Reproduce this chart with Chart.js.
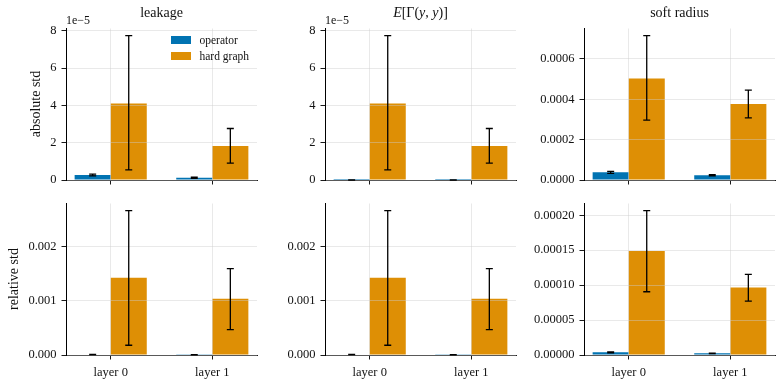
<!DOCTYPE html>
<html>
<head>
<meta charset="utf-8">
<script src="https://cdn.jsdelivr.net/npm/chart.js@4"></script>
<style>
  body { margin: 0; width: 782px; height: 384px; background: #fff; position: relative; overflow: hidden;
         font-family: "Liberation Serif", "DejaVu Serif", serif; color: #111; }
  canvas { position: absolute; }
  .txt { position: absolute; white-space: nowrap; line-height: 1; }
  .title { font-size: 14px; transform: translateX(-50%); }
  .ylab { font-size: 14px; transform: translate(-50%, -50%) rotate(-90deg); }
  .offset { font-size: 12px; }
  .legend { position: absolute; font-size: 11.5px; }
  .legend div { display: flex; align-items: center; height: 16px; }
  .legend span.sw { display: inline-block; width: 20px; height: 7.5px; margin-right: 8.5px; }
</style>
</head>
<body>
<script>
// ── CATEGORIES / SERIES ───────────────────────────────
const layers = ["layer 0", "layer 1"];
const layerPos = [0, 1];
const seriesNames = ["operator", "hard graph"];
const seriesColors = ["#0173b2", "#de8f05"];

// ── ABSOLUTE STD ──────────────────────────────────────
const leakAbsOp     = [2.7e-6, 1.2e-6];
const leakAbsOpLo   = [2.2e-6, 0.9e-6];
const leakAbsOpHi   = [3.2e-6, 1.5e-6];
const leakAbsHard   = [4.10e-5, 1.82e-5];
const leakAbsHardLo = [0.54e-5, 0.90e-5];
const leakAbsHardHi = [7.73e-5, 2.76e-5];

const gammaAbsOp     = [2e-8, 1e-8];
const gammaAbsOpLo   = [1e-8, 0.5e-8];
const gammaAbsOpHi   = [3e-8, 1.5e-8];
const gammaAbsHard   = [4.10e-5, 1.82e-5];
const gammaAbsHardLo = [0.54e-5, 0.90e-5];
const gammaAbsHardHi = [7.73e-5, 2.76e-5];

const radAbsOp     = [3.8e-5, 2.4e-5];
const radAbsOpLo   = [3.3e-5, 2.1e-5];
const radAbsOpHi   = [4.3e-5, 2.6e-5];
const radAbsHard   = [5.03e-4, 3.76e-4];
const radAbsHardLo = [2.97e-4, 3.08e-4];
const radAbsHardHi = [7.15e-4, 4.45e-4];

// ── RELATIVE STD ──────────────────────────────────────
const leakRelOp     = [8e-6, 6e-6];
const leakRelOpLo   = [6e-6, 5e-6];
const leakRelOpHi   = [1e-5, 7e-6];
const leakRelHard   = [1.43e-3, 1.04e-3];
const leakRelHardLo = [0.18e-3, 0.47e-3];
const leakRelHardHi = [2.67e-3, 1.60e-3];

const gammaRelOp     = [8e-6, 6e-6];
const gammaRelOpLo   = [6e-6, 5e-6];
const gammaRelOpHi   = [1e-5, 7e-6];
const gammaRelHard   = [1.43e-3, 1.04e-3];
const gammaRelHardLo = [0.18e-3, 0.47e-3];
const gammaRelHardHi = [2.67e-3, 1.60e-3];

const radRelOp     = [3.8e-6, 2.4e-6];
const radRelOpLo   = [3.2e-6, 2.1e-6];
const radRelOpHi   = [4.6e-6, 2.7e-6];
const radRelHard   = [1.49e-4, 0.965e-4];
const radRelHardLo = [0.905e-4, 0.77e-4];
const radRelHardHi = [2.065e-4, 1.155e-4];

// ── TICKS ─────────────────────────────────────────────
const ticksAbsE5  = [0, 2e-5, 4e-5, 6e-5, 8e-5];
const ticksRadAbs = [0, 0.0002, 0.0004, 0.0006];
const ticksRel    = [0, 0.001, 0.002];
const ticksRadRel = [0, 0.00005, 0.0001, 0.00015, 0.0002];

const colTitles = ["leakage", "<i>E</i>[Γ(<i>y</i>, <i>y</i>)]", "soft radius"];
const rowLabels = ["absolute std", "relative std"];

// ── LAYOUT ────────────────────────────────────────────
const plotLeft = [66, 325, 584];
const plotTop  = [28, 203];
const plotW = 191, plotH = 152;
const padL = 62, padT = 12, padR = 8, padB = 30;
const FONT = '"Liberation Serif", "DejaVu Serif", serif';

const panels = [
  { row: 0, col: 0, op: [leakAbsOp, leakAbsOpLo, leakAbsOpHi], hard: [leakAbsHard, leakAbsHardLo, leakAbsHardHi], ticks: ticksAbsE5, fmt: v => String(Math.round(v * 1e5)), offset: "1e−5" },
  { row: 0, col: 1, op: [gammaAbsOp, gammaAbsOpLo, gammaAbsOpHi], hard: [gammaAbsHard, gammaAbsHardLo, gammaAbsHardHi], ticks: ticksAbsE5, fmt: v => String(Math.round(v * 1e5)), offset: "1e−5" },
  { row: 0, col: 2, op: [radAbsOp, radAbsOpLo, radAbsOpHi], hard: [radAbsHard, radAbsHardLo, radAbsHardHi], ticks: ticksRadAbs, fmt: v => v.toFixed(4) },
  { row: 1, col: 0, op: [leakRelOp, leakRelOpLo, leakRelOpHi], hard: [leakRelHard, leakRelHardLo, leakRelHardHi], ticks: ticksRel, fmt: v => v.toFixed(3) },
  { row: 1, col: 1, op: [gammaRelOp, gammaRelOpLo, gammaRelOpHi], hard: [gammaRelHard, gammaRelHardLo, gammaRelHardHi], ticks: ticksRel, fmt: v => v.toFixed(3) },
  { row: 1, col: 2, op: [radRelOp, radRelOpLo, radRelOpHi], hard: [radRelHard, radRelHardLo, radRelHardHi], ticks: ticksRadRel, fmt: v => v.toFixed(5) },
];

// ── ERROR BARS (drawn after grid) ─────────────────────
const errorBars = {
  id: "errorBars",
  afterDraw(chart) {
    const ctx = chart.ctx, y = chart.scales.y;
    ctx.save();
    ctx.strokeStyle = "#000";
    ctx.lineWidth = 1.3;
    chart.data.datasets.forEach((ds, di) => {
      chart.getDatasetMeta(di).data.forEach((bar, i) => {
        const top = y.getPixelForValue(ds.errHi[i]);
        const bot = y.getPixelForValue(ds.errLo[i]);
        ctx.beginPath();
        ctx.moveTo(bar.x, top); ctx.lineTo(bar.x, bot);
        ctx.moveTo(bar.x - 3.5, top); ctx.lineTo(bar.x + 3.5, top);
        ctx.moveTo(bar.x - 3.5, bot); ctx.lineTo(bar.x + 3.5, bot);
        ctx.stroke();
      });
    });
    ctx.restore();
  }
};

function addText(cls, html, left, top) {
  const d = document.createElement("div");
  d.className = "txt " + cls;
  d.innerHTML = html;
  d.style.left = left + "px";
  d.style.top = top + "px";
  document.body.appendChild(d);
}

const gridOpts = () => ({ color: "rgba(205,205,205,0.55)", lineWidth: 0.8, z: 1, offset: false,
                          tickLength: 4.5, tickColor: "#000", tickWidth: 0.9 });
const borderOpts = () => ({ color: "#000", width: 1, z: 1 });

panels.forEach(p => {
  const cv = document.createElement("canvas");
  const W = padL + plotW + padR, H = padT + plotH + padB;
  cv.width = W; cv.height = H;
  cv.style.left = (plotLeft[p.col] - padL) + "px";
  cv.style.top = (plotTop[p.row] - padT) + "px";
  cv.style.width = W + "px"; cv.style.height = H + "px";
  document.body.appendChild(cv);

  const series = [p.op, p.hard];
  const yMax = Math.max(...p.op[2], ...p.hard[2]) * 1.05;

  new Chart(cv.getContext("2d"), {
    type: "bar",
    data: {
      datasets: series.map((s, k) => ({
        label: seriesNames[k],
        data: layerPos.map((x, i) => ({ x, y: s[0][i] })),
        errLo: s[1],
        errHi: s[2],
        backgroundColor: seriesColors[k],
        borderWidth: 0,
        categoryPercentage: 0.71,
        barPercentage: 1.0,
      })),
    },
    options: {
      responsive: false,
      animation: false,
      devicePixelRatio: 1,
      layout: { padding: { top: padT, right: padR, left: 0, bottom: 0 } },
      plugins: { legend: { display: false }, tooltip: { enabled: false } },
      scales: {
        x: {
          type: "linear",
          offset: false,
          min: -0.44, max: 1.44,
          afterBuildTicks: s => { s.ticks = layerPos.map(v => ({ value: v })); },
          afterFit: s => { s.height = padB; },
          grid: gridOpts(),
          border: borderOpts(),
          ticks: { display: p.row === 1, padding: 6, color: "#111", font: { family: FONT, size: 12.5 },
                   callback: v => layers[layerPos.indexOf(v)] },
        },
        y: {
          min: 0, max: yMax,
          afterBuildTicks: s => { s.ticks = p.ticks.map(v => ({ value: v })); },
          afterFit: s => { s.width = padL; },
          grid: gridOpts(),
          border: borderOpts(),
          ticks: { padding: 5, color: "#111", font: { family: FONT, size: 12.5 }, callback: v => p.fmt(v) },
        },
      },
    },
    plugins: [errorBars],
  });

  if (p.row === 0) addText("title", colTitles[p.col], plotLeft[p.col] + plotW / 2, 6);
  if (p.offset) addText("offset", p.offset, plotLeft[p.col], 13.5);
});

addText("ylab", rowLabels[0], 36, plotTop[0] + plotH / 2);
addText("ylab", rowLabels[1], 14, plotTop[1] + plotH / 2);

// ── LEGEND (inside first panel) ───────────────────────
const lg = document.createElement("div");
lg.className = "legend";
lg.style.left = "171px"; lg.style.top = "32px";
seriesNames.forEach((n, k) => {
  const row = document.createElement("div");
  row.innerHTML = `<span class="sw" style="background:${seriesColors[k]}"></span>${n}`;
  lg.appendChild(row);
});
document.body.appendChild(lg);
</script>
</body>
</html>
